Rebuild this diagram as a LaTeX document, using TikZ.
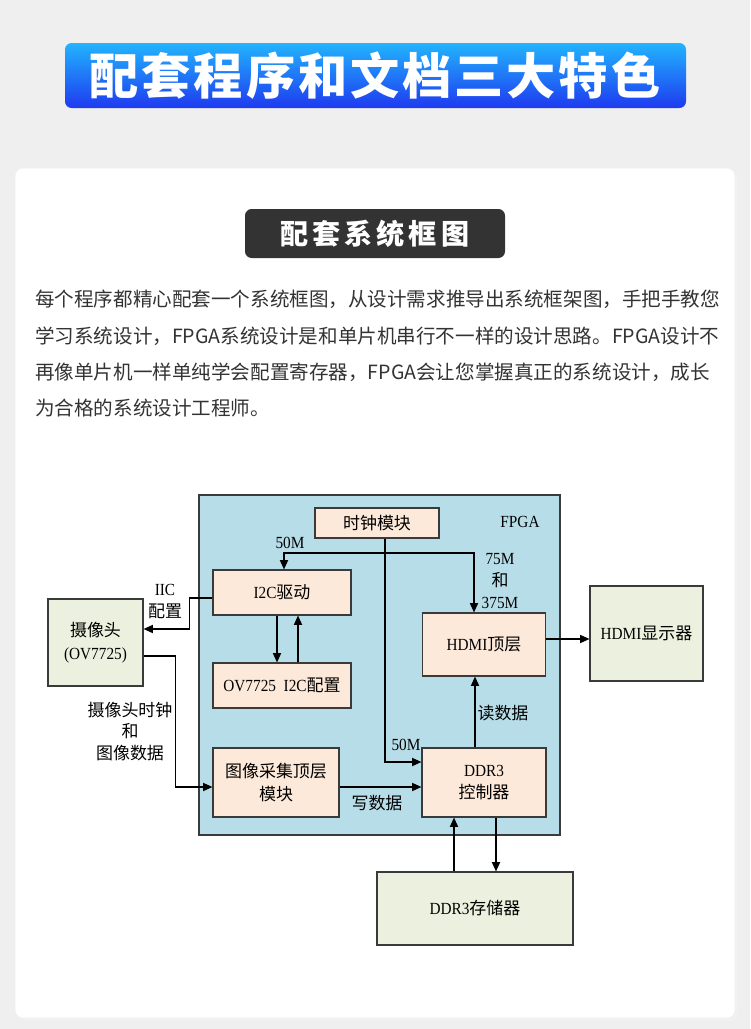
\documentclass[tikz,border=0pt]{standalone}
\usepackage{fontspec}
\setmainfont[FakeStretch=0.9]{Liberation Serif}
\newfontfamily\cjk{Noto Sans CJK SC}
\usetikzlibrary{arrows.meta,calc}
\definecolor{pagebg}{HTML}{EFEFEF}
\definecolor{bannertop}{HTML}{22B4FE}
\definecolor{bannerbot}{HTML}{1E3AF0}
\definecolor{tagbg}{HTML}{333333}
\definecolor{bodytext}{HTML}{333333}
\definecolor{fpgablue}{HTML}{B7DDE8}
\definecolor{modpeach}{HTML}{FDE9D9}
\definecolor{devgreen}{HTML}{EBF1DE}
\definecolor{edge}{HTML}{3A3A3A}
\newcommand{\zh}[1]{{\cjk #1}}
\tikzset{
  banner/.style={top color=bannertop, bottom color=bannerbot, rounded corners=0.2cm},
  card/.style={fill=white, draw=black!6, line width=0.6pt, rounded corners=0.24cm},
  headtag/.style={fill=tagbg, rounded corners=0.2cm},
  introline/.style={anchor=base west, inner sep=0pt, text=bodytext, font=\cjk\fontsize{16.7}{31}\selectfont},
  fpgaarea/.style={fill=fpgablue, draw=edge, line width=1.1pt, inner sep=0pt},
  module/.style={fill=modpeach, draw=edge, line width=1pt, inner sep=0pt, align=center, font=\fontsize{14.5}{19}\selectfont},
  device/.style={fill=devgreen, draw=edge, line width=1pt, inner sep=0pt, align=center, font=\fontsize{14.5}{20}\selectfont},
  link/.style={draw=black, line width=1pt, -{Triangle[length=8pt,width=7pt]}},
  tag/.style={inner sep=0pt, align=center, font=\fontsize{14.5}{18.5}\selectfont},
}

\begin{document}
\begin{tikzpicture}[x=0.03cm, y=-0.03cm]
\useasboundingbox (0,0) rectangle (750,1029);
\fill[pagebg] (0,0) rectangle (750,1029);
\shade[banner] (65,43) rectangle (686,108);
\node[text=white, font=\cjk\bfseries\fontsize{42}{42}\selectfont\addfontfeature{LetterSpace=6}] (title) at (375,75.5) {配套程序和文档三大特色};
\fill[black!5] (17,171) [rounded corners=0.24cm] rectangle (737,1020);
\path[card] (15,168) rectangle (735,1018);
\fill[headtag] (245,209) rectangle (505,258);
\node[text=white, font=\cjk\bfseries\fontsize{24}{24}\selectfont\addfontfeature{LetterSpace=14}] (subtitle) at (375,233.5) {配套系统框图};
\node[introline] (intro1) at (35,306.5) {每个程序都精心配套一个系统框图，从设计需求推导出系统框架图，手把手教您};
\node[introline] (intro2) at (35,343.5) {学习系统设计，FPGA系统设计是和单片机串行不一样的设计思路。FPGA设计不};
\node[introline] (intro3) at (35,379.5) {再像单片机一样单纯学会配置寄存器，FPGA会让您掌握真正的系统设计，成长};
\node[introline] (intro4) at (35,415.5) {为合格的系统设计工程师。};

\node[fpgaarea, minimum width=10.83cm, minimum height=10.2cm] (fpga) at (379.5,665) {};
\node[tag] (fpgalbl) at (520,522) {FPGA};
\node[module, minimum width=3.72cm, minimum height=0.9cm] (clk) at (377,523) {\zh{时钟模块}};
\node[module, minimum width=4.14cm, minimum height=1.35cm] (i2c) at (282,592.5) {I2C\zh{驱动}};
\node[module, minimum width=4.14cm, minimum height=1.35cm] (ovcfg) at (282,685.5) {OV7725\ \ I2C\zh{配置}};
\node[module, minimum width=3.78cm, minimum height=2.07cm] (cap) at (276,782.5) {\zh{图像采集顶层}\\\zh{模块}};
\node[module, minimum width=3.69cm, minimum height=1.89cm] (hdmitop) at (484,644.5) {HDMI\zh{顶层}};
\node[module, minimum width=3.72cm, minimum height=2.07cm] (ddrctl) at (484,782.5) {DDR3\\\zh{控制器}};
\node[device, minimum width=2.85cm, minimum height=2.61cm] (cam) at (95.5,642.5) {\zh{摄像头}\\(OV7725)};
\node[device, minimum width=3.39cm, minimum height=2.85cm] (hdmidisp) at (646.5,633.5) {HDMI\zh{显示器}};
\node[device, minimum width=5.88cm, minimum height=2.19cm] (ddr) at (475,908.5) {DDR3\zh{存储器}};

\coordinate (clkbus) at (385,553);
\draw[link] ($(clk.south)+(8,0)$) |- ($(ddrctl.west)+(0,-20.5)$);
\draw[link] (clkbus) -| ($(i2c.north)+(2,0)$);
\draw[link] (clkbus) -| ($(hdmitop.north)+(-10,0)$);
\draw[link] ($(i2c.south)+(-5,0)$) -- ($(ovcfg.north)+(-5,0)$);
\draw[link] ($(ovcfg.north)+(16,0)$) -- ($(i2c.south)+(16,0)$);
\draw[link] ($(i2c.west)+(0,5.5)$) -- ++(-23,0) |- ($(cam.east)+(0,-13.5)$);
\draw[link] ($(cam.east)+(0,13.5)$) -- ++(32,0) |- ($(cap.west)+(0,4.5)$);
\draw[link] ($(cap.east)+(0,4.5)$) -- ($(ddrctl.west)+(0,4.5)$);
\draw[link] ($(ddrctl.north)+(-9,0)$) -- ($(hdmitop.south)+(-9,0)$);
\draw[link] ($(hdmitop.east)+(0,-5.5)$) -- ($(hdmidisp.west)+(0,5.5)$);
\draw[link] ($(ddr.north)+(-21,0)$) -- ($(ddrctl.south)+(-30,0)$);
\draw[link] ($(ddrctl.south)+(12,0)$) -- ($(ddr.north)+(21,0)$);

\node[tag] (clk50a) at (290,543) {50M};
\node[tag] (clkhdmi) at (500,581) {75M\\\zh{和}\\375M};
\node[tag] (iiclbl) at (165,601.5) {IIC\\\zh{配置}};
\node[tag] (camlbl) at (130,731.5) {\zh{摄像头时钟}\\\zh{和}\\\zh{图像数据}};
\node[tag] (clk50b) at (406,745) {50M};
\node[tag] (wrlbl) at (377,803) {\zh{写数据}};
\node[tag] (rdlbl) at (503,713) {\zh{读数据}};
\end{tikzpicture}
\end{document}
